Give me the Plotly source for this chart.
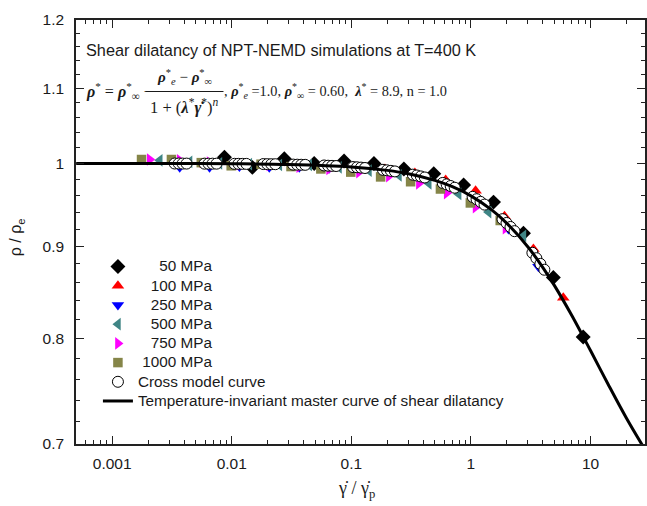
import plotly.graph_objects as go

# ---------------- data ----------------
x_master = [0.0005, 0.001, 0.003, 0.01, 0.03, 0.1, 0.2, 0.3, 0.5, 0.7, 1.0, 1.5, 2.0,
            3.0, 4.0, 5.0, 7.0, 10.0, 14.0, 20.0, 28.5]
y_master = [1.0, 1.0, 0.9999, 0.9996, 0.9987, 0.9956, 0.9912, 0.9870, 0.9787, 0.9708,
            0.9596, 0.9423, 0.9266, 0.8992, 0.8760, 0.8561, 0.8239, 0.7883, 0.7555,
            0.7233, 0.6952]

x_50 = [0.00869, 0.01486, 0.0275, 0.0489, 0.0869, 0.1545, 0.275, 0.489, 0.869, 1.545,
        2.75, 4.89, 8.69]
y_50 = [1.008, 0.995, 1.006, 1.000, 1.003, 1.000, 0.993, 0.987, 0.973, 0.952, 0.915,
        0.865, 0.802]

x_100 = [0.00604, 0.01074, 0.0191, 0.034, 0.0604, 0.1074, 0.191, 0.34, 0.615, 1.094,
         1.91, 3.33, 5.92]
y_100 = [0.998, 0.997, 0.999, 0.998, 0.997, 0.995, 0.993, 0.988, 0.979, 0.966, 0.935,
         0.897, 0.843]

x_250 = [0.00367, 0.00652, 0.01159, 0.0206, 0.0367, 0.0652, 0.1159, 0.206, 0.367,
         0.652, 1.159, 2.06, 3.67]
y_250 = [0.995, 0.995, 0.996, 0.995, 0.995, 0.994, 0.992, 0.988, 0.981, 0.970, 0.950,
         0.920, 0.877]

x_500 = [0.0025, 0.00444, 0.00789, 0.01403, 0.025, 0.0444, 0.0789, 0.1403, 0.25,
         0.444, 0.789, 1.404, 2.75]
y_500 = [1.004, 1.002, 1.000, 0.999, 0.998, 0.998, 0.995, 0.991, 0.985, 0.975, 0.962,
         0.940, 0.912]

x_750 = [0.00206, 0.00367, 0.00652, 0.01159, 0.0206, 0.0367, 0.0652, 0.1159, 0.206,
         0.367, 0.627, 1.094, 1.947]
y_750 = [1.005, 1.004, 1.001, 0.999, 0.998, 0.996, 0.993, 0.989, 0.984, 0.975, 0.963,
         0.946, 0.921]

x_1000 = [0.00176, 0.00313, 0.00556, 0.00989, 0.01757, 0.0313, 0.0556, 0.0989, 0.1757,
          0.313, 0.556, 0.989, 1.758]
y_1000 = [1.005, 1.005, 1.001, 0.997, 0.999, 0.996, 0.993, 0.989, 0.983, 0.977, 0.968,
          0.951, 0.930]

x_cross = [0.00333, 0.00360, 0.00388, 0.00419,
           0.00592, 0.00639, 0.00690, 0.00746,
           0.01053, 0.01137, 0.01228, 0.01326,
           0.01837, 0.01984, 0.02142, 0.02314,
           0.03266, 0.03527, 0.03809, 0.04113,
           0.0592, 0.0639, 0.0690, 0.0746,
           0.1033, 0.1115, 0.1204, 0.1300,
           0.1837, 0.1984, 0.2142, 0.2314,
           0.3266, 0.3527, 0.3809, 0.4113,
           0.581, 0.627, 0.677, 0.732,
           1.033, 1.115, 1.204, 1.300,
           1.837, 1.984, 2.142, 2.314,
           3.266, 3.527, 3.809, 4.113]
y_cross = [0.9999, 0.9999, 0.9998, 0.9998,
           0.9997, 0.9997, 0.9997, 0.9997,
           0.9995, 0.9995, 0.9994, 0.9994,
           0.9992, 0.9991, 0.9990, 0.9990,
           0.9985, 0.9984, 0.9983, 0.9982,
           0.9974, 0.9971, 0.9969, 0.9967,
           0.9954, 0.9951, 0.9947, 0.9942,
           0.9919, 0.9913, 0.9906, 0.9899,
           0.9858, 0.9848, 0.9836, 0.9823,
           0.9755, 0.9737, 0.9717, 0.9696,
           0.9584, 0.9555, 0.9523, 0.9490,
           0.9316, 0.9271, 0.9224, 0.9175,
           0.8926, 0.8865, 0.8801, 0.8736]

legend_names = [" \u2007\u200750 MPa", " \u2007100 MPa", " \u2007250 MPa", " \u2007500 MPa",
                " \u2007750 MPa", " 1000 MPa", "Cross model curve",
                "Temperature-invariant master curve of shear dilatancy"]

x_tick_vals = [0.001, 0.01, 0.1, 1, 10]
x_tick_text = ["0.001", "0.01", "0.1", "1", "10"]
y_tick_vals = [0.7, 0.8, 0.9, 1.0, 1.1, 1.2]
y_tick_text = ["0.7", "0.8", "0.9", "1", "1.1", "1.2"]

# ---------------- layout geometry ----------------
W, H = 647, 506
L, R, T, B = 76, 647, 20, 444
SANS = "Liberation Sans, Arial, sans-serif"
SERIF = "Liberation Serif, Times New Roman, serif"
TXT = "#1a1a1a"


def px(x):
    return (x - L) / (R - L)


def py(y):
    return (B - y) / (B - T)


fig = go.Figure()

marker_styles = [
    dict(symbol="diamond", size=11.5, color="black"),
    dict(symbol="triangle-up", size=11, color="#ff0000"),
    dict(symbol="triangle-down", size=11, color="#0000ff"),
    dict(symbol="triangle-left", size=11, color="#3f8585"),
    dict(symbol="triangle-right", size=11, color="#ff00ff"),
    dict(symbol="square", size=9.5, color="#858548"),
]
series = [(x_50, y_50), (x_100, y_100), (x_250, y_250), (x_500, y_500),
          (x_750, y_750), (x_1000, y_1000)]

LEG_SPAN = '<span style="font-size:15.3px">{}</span>'

for (xs, ys), name, ms in zip(series, legend_names[:6], marker_styles):
    fig.add_trace(go.Scatter(x=xs, y=ys, mode="markers", name=LEG_SPAN.format(name),
                             marker=dict(**ms, line=dict(width=0))))

fig.add_trace(go.Scatter(x=x_cross, y=y_cross, mode="markers",
                         name=LEG_SPAN.format(legend_names[6]),
                         marker=dict(symbol="circle", size=11, color="white",
                                     line=dict(color="black", width=1))))

fig.add_trace(go.Scatter(x=x_master, y=y_master, mode="lines",
                         name=LEG_SPAN.format(legend_names[7]),
                         line=dict(color="black", width=3, shape="spline", smoothing=1)))

x_minor = [k * 10 ** e for e in range(-4, 2) for k in range(2, 10)]
y_minor = [round(0.70 + 0.02 * i, 2) for i in range(1, 25)]
y_minor = [v for v in y_minor if round(v * 10, 6) != round(v * 10)]

axis_common = dict(
    showline=True, linecolor="#222", linewidth=1.5, mirror="ticks",
    ticks="inside", ticklen=8, tickwidth=1.3, tickcolor="#222",
    showgrid=False, zeroline=False,
    tickfont=dict(family=SANS, size=15.5, color=TXT),
)

fig.update_xaxes(type="log", range=[-3.3025, 1.4558],
                 tickvals=x_tick_vals, ticktext=x_tick_text,
                 ticklabelstandoff=5,
                 minor=dict(tickvals=x_minor, ticks="inside", ticklen=4,
                            tickwidth=1.1, tickcolor="#222", showgrid=False),
                 **axis_common)
fig.update_yaxes(type="log", range=[-0.15490, 0.07918],
                 tickvals=y_tick_vals, ticktext=y_tick_text,
                 ticklabelstandoff=7,
                 minor=dict(tickvals=y_minor, ticks="inside", ticklen=4,
                            tickwidth=1.1, tickcolor="#222", showgrid=False),
                 **axis_common)

rho = "<b><i>ρ</i></b>"
annotations = [
    dict(text="Shear dilatancy of NPT-NEMD simulations at T=400 K",
         x=px(84), y=py(50), xanchor="left", yanchor="middle",
         font=dict(family=SANS, size=16.3, color=TXT)),
    dict(text=f"{rho}<sup>*</sup> = {rho}<sup>*</sup><sub>∞</sub> −",
         x=px(84), y=py(91), xanchor="left", yanchor="middle",
         font=dict(family=SERIF, size=16, color=TXT)),
    dict(text=f"{rho}<sup>*</sup><sub><i>e</i></sub> − {rho}<sup>*</sup><sub>∞</sub>",
         x=px(185), y=py(77), xanchor="center", yanchor="middle",
         font=dict(family=SERIF, size=15, color=TXT)),
    dict(text="1 + (<b><i>λ</i></b><sup>*</sup><b><i>γ̇</i></b><sup>*</sup>)<sup><i>n</i></sup>",
         x=px(185), y=py(106), xanchor="center", yanchor="middle",
         font=dict(family=SERIF, size=16.5, color=TXT)),
    dict(text=(f", {rho}<sup>*</sup><sub><i>e</i></sub> =1.0, {rho}<sup>*</sup><sub>∞</sub>"
               " = 0.60,  <b><i>λ</i></b><sup>*</sup> = 8.9, n = 1.0"),
         x=px(223), y=py(91), xanchor="left", yanchor="middle",
         font=dict(family=SERIF, size=14.3, color=TXT)),
    dict(text="γ̇ / γ̇<sub>p</sub>", x=px(357), y=py(490), xanchor="center",
         yanchor="middle", font=dict(family=SERIF, size=18, color=TXT)),
    dict(text="ρ / ρ<sub>e</sub>", x=px(16), y=py(237), xanchor="center",
         yanchor="middle", textangle=-90, font=dict(family=SANS, size=16, color=TXT)),
]
for a in annotations:
    a.update(xref="paper", yref="paper", showarrow=False)

fig.update_layout(
    width=W, height=H,
    margin=dict(l=L, r=W - R, t=T, b=H - B),
    paper_bgcolor="white", plot_bgcolor="white",
    annotations=annotations,
    shapes=[dict(type="line", xref="paper", yref="paper",
                 x0=px(146), x1=px(224), y0=py(91.5), y1=py(91.5),
                 line=dict(color=TXT, width=1.2))],
    legend=dict(x=px(98), y=py(252), xanchor="left", yanchor="top",
                bgcolor="rgba(0,0,0,0)", borderwidth=0,
                font=dict(family=SANS, size=12.46, color=TXT),
                traceorder="normal", itemwidth=30),
    showlegend=True,
)

fig.write_html("out.html")
